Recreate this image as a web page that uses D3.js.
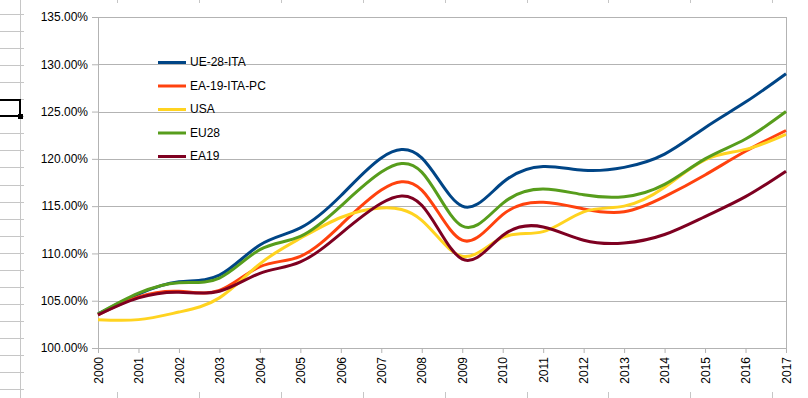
<!DOCTYPE html>
<html>
<head>
<meta charset="utf-8">
<script src="https://cdn.jsdelivr.net/npm/d3@7"></script>
<style>
  body { margin: 0; background: #fff; }
  svg { display: block; font-family: "Liberation Sans", Arial, sans-serif; }
</style>
</head>
<body>
<script>
var years = [2000, 2001, 2002, 2003, 2004, 2005, 2006, 2007, 2008,
             2009, 2010, 2011, 2012, 2013, 2014, 2015, 2016, 2017];

var ue28ita = [103.6, 105.7, 107.0, 107.7, 110.9, 112.7, 116.1, 120.1, 120.1,
               115.0, 117.5, 119.2, 118.8, 119.1, 120.5, 123.3, 126.0, 129.0];
var ea19itapc = [103.5, 105.4, 106.0, 106.1, 108.6, 109.7, 113.0, 116.7, 116.7,
                 111.4, 114.1, 115.4, 114.7, 114.4, 116.0, 118.3, 120.8, 123.0];
var usa = [103.0, 103.0, 103.8, 105.3, 108.9, 111.6, 113.8, 114.8, 113.5,
           109.7, 111.7, 112.3, 114.4, 115.0, 117.0, 119.9, 121.0, 122.6];
var eu28 = [103.6, 105.8, 106.9, 107.4, 110.4, 111.8, 115.0, 118.6, 118.6,
            112.9, 115.3, 116.8, 116.2, 116.0, 117.3, 120.0, 122.1, 125.0];
var ea19 = [103.5, 105.3, 105.9, 106.0, 107.9, 109.1, 112.1, 115.3, 115.1,
            109.4, 111.9, 112.8, 111.4, 111.1, 112.0, 113.9, 116.0, 118.7];

var seriesNames = ["UE-28-ITA", "EA-19-ITA-PC", "USA", "EU28", "EA19"];
var seriesValues = [ue28ita, ea19itapc, usa, eu28, ea19];
var colors = ["#004586", "#ff420e", "#ffd320", "#579d1c", "#7e0021"];
var yTicks = [100, 105, 110, 115, 120, 125, 130, 135];

var W = 808, H = 398;
var margin = {top: 17, right: 22, bottom: 50, left: 98},
    width = W - margin.left - margin.right,
    height = H - margin.top - margin.bottom;

var svg = d3.select("body").append("svg")
    .attr("width", W)
    .attr("height", H);

// spreadsheet bits peeking around the chart
var sheet = svg.append("g").attr("class", "sheet");
sheet.append("line")
    .attr("x1", 20.5).attr("x2", 20.5).attr("y1", 0).attr("y2", H)
    .attr("stroke", "#c6c6c6");
for (var r = 0; r < 23; r++) {
  var ry = Math.round(14 + r * 17.05) + 0.5;
  sheet.append("line")
      .attr("x1", 0).attr("x2", 24).attr("y1", ry).attr("y2", ry)
      .attr("stroke", "#c6c6c6");
}
for (var c = 0; c < 9; c++) {
  var cx = Math.round(117 + c * 81.9) + 0.5;
  sheet.append("line")
      .attr("x1", cx).attr("x2", cx).attr("y1", 392).attr("y2", H)
      .attr("stroke", "#c6c6c6");
  sheet.append("line")
      .attr("x1", cx).attr("x2", cx).attr("y1", 0).attr("y2", 3)
      .attr("stroke", "#c6c6c6");
}
sheet.append("rect")
    .attr("x", -2).attr("y", 100).attr("width", 22).attr("height", 16)
    .attr("fill", "none").attr("stroke", "#000").attr("stroke-width", 2);
sheet.append("rect")
    .attr("x", 18).attr("y", 114).attr("width", 5).attr("height", 5)
    .attr("fill", "#000");

var g = svg.append("g")
    .attr("transform", "translate(" + margin.left + "," + margin.top + ")");

var x = d3.scaleLinear()
    .domain([2000, 2017])
    .range([0, width]);

var y = d3.scaleLinear()
    .domain([100, 135])
    .range([height, 0]);

// gridlines
g.append("g")
    .selectAll("line")
    .data(yTicks)
  .enter().append("line")
    .attr("x1", 0).attr("x2", width)
    .attr("y1", function(d) { return Math.round(y(d)) + 0.5; })
    .attr("y2", function(d) { return Math.round(y(d)) + 0.5; })
    .attr("stroke", "#b3b3b3");

// right border
g.append("line")
    .attr("x1", width + 0.5).attr("x2", width + 0.5)
    .attr("y1", 0).attr("y2", height)
    .attr("stroke", "#b3b3b3");

var yAxis = d3.axisLeft(y)
    .tickValues(yTicks)
    .tickSize(6)
    .tickPadding(4)
    .tickFormat(function(d) { return d.toFixed(2) + "%"; });

g.append("g")
    .attr("class", "y axis")
    .call(yAxis)
    .call(function(s) {
      s.selectAll("line, path").attr("stroke", "#b3b3b3");
      s.select(".domain").attr("d", "M0.5,0V" + height);
      s.selectAll("text").attr("font-size", 12).attr("fill", "#000")
        .attr("font-family", "Liberation Sans, Arial, sans-serif");
    });

var xAxis = d3.axisBottom(x)
    .tickValues(years)
    .tickSize(5)
    .tickFormat(d3.format("d"));

g.append("g")
    .attr("class", "x axis")
    .attr("transform", "translate(0," + height + ")")
    .call(xAxis)
    .call(function(s) {
      s.selectAll("line, path").attr("stroke", "#b3b3b3");
      s.select(".domain").attr("d", "M0," + 0.5 + "H" + width);
      s.selectAll("text")
        .attr("font-size", 12).attr("fill", "#000")
        .attr("font-family", "Liberation Sans, Arial, sans-serif")
        .style("text-anchor", "end")
        .attr("transform", "rotate(-90)")
        .attr("x", -9)
        .attr("y", 0)
        .attr("dy", "0.35em");
    });

var line = d3.line()
    .x(function(d, i) { return x(years[i]); })
    .y(function(d) { return y(d); })
    .curve(d3.curveNatural);

g.selectAll(".series")
    .data(seriesValues)
  .enter().append("path")
    .attr("class", "series")
    .attr("fill", "none")
    .attr("stroke", function(d, i) { return colors[i]; })
    .attr("stroke-width", 3)
    .attr("d", line);

// legend
var legend = svg.append("g")
    .attr("transform", "translate(158,62)");

var item = legend.selectAll(".item")
    .data(seriesNames)
  .enter().append("g")
    .attr("class", "item")
    .attr("transform", function(d, i) { return "translate(0," + (i * 23.5) + ")"; });

item.append("line")
    .attr("x1", 0).attr("x2", 28)
    .attr("y1", 0.5).attr("y2", 0.5)
    .attr("stroke", function(d, i) { return colors[i]; })
    .attr("stroke-width", 3);

item.append("text")
    .attr("x", 32)
    .attr("y", 0)
    .attr("dy", "0.36em")
    .attr("font-size", 12)
    .attr("fill", "#000")
    .text(function(d) { return d; });
</script>
</body>
</html>
